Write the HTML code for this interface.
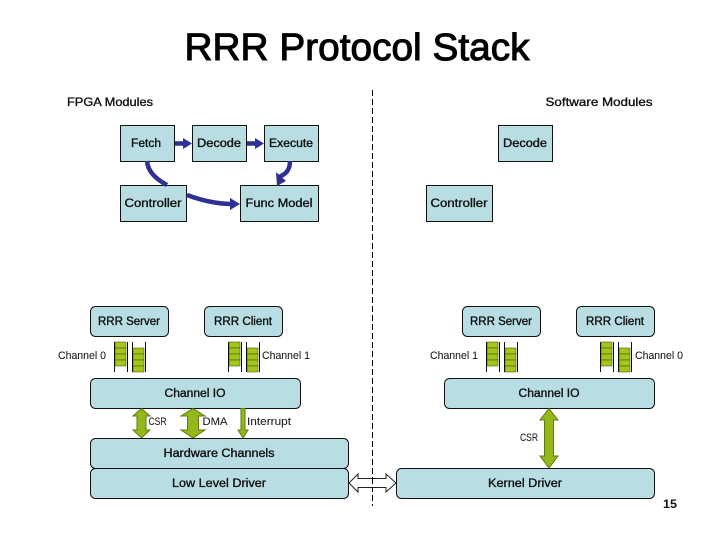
<!DOCTYPE html>
<html>
<head>
<meta charset="utf-8">
<style>
html,body{margin:0;padding:0;background:#fff}
svg{display:block}
text{font-family:"Liberation Sans",sans-serif;fill:#111}
.n{font-size:11.5px;text-anchor:middle;fill:#111;stroke:#111;stroke-width:.35}
.t{font-size:11px;text-anchor:middle;fill:#222;stroke:#222;stroke-width:.1}
.b{fill:#b8dde2;stroke:#111;stroke-width:1}
.a{fill:#94b81a;stroke:#5f7a10;stroke-width:1}
.f{fill:none;stroke:#111;stroke-width:1}
.c{fill:#a4c51a;stroke:#4a5c10;stroke-width:.6}
.p{fill:none;stroke:#2e3192;stroke-width:4.5}
.h{fill:#2e3192}
</style>
</head>
<body>
<svg width="720" height="540" viewBox="0 0 720 540" xmlns="http://www.w3.org/2000/svg">
<defs>
<g id="fifo">
<rect class="c" x="1" y="0" width="11" height="6"/><rect class="c" x="1" y="6" width="11" height="6"/><rect class="c" x="1" y="12" width="11" height="6"/><rect class="c" x="1" y="18" width="11" height="6"/>
<path class="f" d="M.5 0V30M13.500 0V30"/>
<rect class="c" x="19" y="6" width="11" height="6"/><rect class="c" x="19" y="12" width="11" height="6"/><rect class="c" x="19" y="18" width="11" height="6"/><rect class="c" x="19" y="24" width="11" height="6"/>
<path class="f" d="M18.500 0V30M31.500 0V30"/>
</g>
</defs>

<text x="357" y="60" font-size="38" text-anchor="middle" textLength="345" lengthAdjust="spacingAndGlyphs" style="fill:#000;stroke:#000;stroke-width:1">RRR Protocol Stack</text>
<text class="n" x="110" y="106" textLength="86" lengthAdjust="spacingAndGlyphs" style="font-size:12px">FPGA Modules</text>
<text class="n" x="599" y="106" textLength="107" lengthAdjust="spacingAndGlyphs" style="font-size:12px">Software Modules</text>

<line x1="372.500" y1="90" x2="372.500" y2="506" stroke="#000" stroke-width="1" stroke-dasharray="6 3"/>

<!-- FPGA upper boxes -->
<rect class="b" x="120.500" y="125.500" width="54" height="36"/>
<rect class="b" x="192.500" y="125.500" width="54" height="36"/>
<rect class="b" x="264.500" y="125.500" width="54" height="36"/>
<rect class="b" x="120.500" y="185.500" width="66" height="36"/>
<rect class="b" x="240.500" y="185.500" width="78" height="36"/>
<text class="n" x="146" y="147" textLength="30" lengthAdjust="spacingAndGlyphs">Fetch</text>
<text class="n" x="219" y="147" textLength="44" lengthAdjust="spacingAndGlyphs">Decode</text>
<text class="n" x="291" y="147" textLength="44" lengthAdjust="spacingAndGlyphs">Execute</text>
<text class="n" x="153" y="207" textLength="57" lengthAdjust="spacingAndGlyphs">Controller</text>
<text class="n" x="279" y="207" textLength="67" lengthAdjust="spacingAndGlyphs">Func Model</text>

<!-- blue arrows -->
<path class="p" d="M175 143.500H185"/><polygon class="h" points="183,138 192,143.500 183,149"/>
<path class="p" d="M247 143.500H257"/><polygon class="h" points="255,138 264,143.500 255,149"/>
<path class="p" d="M290 161C290 170 286 174 279 177"/><polygon class="h" points="276,172 286,181 277,186"/>
<path class="p" d="M147 161C148 172 156 179 167 185"/>
<path class="p" d="M187 195C203 201 218 204 233 204"/><polygon class="h" points="230,198 240,204 230,210"/>

<!-- right upper boxes -->
<rect class="b" x="498.500" y="125.500" width="54" height="36"/>
<rect class="b" x="426.500" y="185.500" width="66" height="36"/>
<text class="n" x="525" y="147" textLength="44" lengthAdjust="spacingAndGlyphs">Decode</text>
<text class="n" x="459" y="207" textLength="57" lengthAdjust="spacingAndGlyphs">Controller</text>

<!-- Left stack -->
<rect class="b" x="90.500" y="306.500" width="78" height="30" rx="5"/>
<rect class="b" x="204.500" y="306.500" width="78" height="30" rx="5"/>
<text class="n" x="129" y="325" textLength="62" lengthAdjust="spacingAndGlyphs">RRR Server</text>
<text class="n" x="243" y="325" textLength="58" lengthAdjust="spacingAndGlyphs">RRR Client</text>
<use href="#fifo" x="114" y="342"/>
<use href="#fifo" x="228" y="342"/>
<text class="t" x="82" y="359" textLength="48" lengthAdjust="spacingAndGlyphs">Channel 0</text>
<text class="t" x="286" y="359" textLength="48" lengthAdjust="spacingAndGlyphs">Channel 1</text>
<rect class="b" x="90.500" y="378.500" width="210" height="30" rx="5"/>
<text class="n" x="195" y="397" textLength="61" lengthAdjust="spacingAndGlyphs">Channel IO</text>

<polygon class="a" points="141.500,408.500 150,416 146,416 146,430 150,430 141.500,438 133,430 137,430 137,416 133,416"/>
<polygon class="a" points="193,408.500 205,416 198.500,416 198.500,430 205,430 193,438 181,430 187.500,430 187.500,416 181,416"/>
<polygon class="a" points="241,408.500 245,408.500 245,430 248,430 243,438 238,430 241,430"/>
<text class="t" x="157.500" y="425" textLength="18" lengthAdjust="spacingAndGlyphs">CSR</text>
<text class="t" x="215" y="425" textLength="25" lengthAdjust="spacingAndGlyphs">DMA</text>
<text class="t" x="269" y="425" textLength="44" lengthAdjust="spacingAndGlyphs">Interrupt</text>

<rect class="b" x="90.500" y="438.500" width="258" height="30" rx="5"/>
<rect class="b" x="90.500" y="468.500" width="258" height="30" rx="5"/>
<text class="n" x="219" y="457" textLength="111" lengthAdjust="spacingAndGlyphs">Hardware Channels</text>
<text class="n" x="219" y="487" textLength="94" lengthAdjust="spacingAndGlyphs">Low Level Driver</text>

<!-- Right stack -->
<rect class="b" x="462.500" y="306.500" width="78" height="30" rx="5"/>
<rect class="b" x="576.500" y="306.500" width="78" height="30" rx="5"/>
<text class="n" x="501" y="325" textLength="62" lengthAdjust="spacingAndGlyphs">RRR Server</text>
<text class="n" x="615" y="325" textLength="58" lengthAdjust="spacingAndGlyphs">RRR Client</text>
<use href="#fifo" x="486" y="342"/>
<use href="#fifo" x="600" y="342"/>
<text class="t" x="454" y="359" textLength="48" lengthAdjust="spacingAndGlyphs">Channel 1</text>
<text class="t" x="659" y="359" textLength="48" lengthAdjust="spacingAndGlyphs">Channel 0</text>
<rect class="b" x="444.500" y="378.500" width="210" height="30" rx="5"/>
<text class="n" x="549" y="397" textLength="61" lengthAdjust="spacingAndGlyphs">Channel IO</text>
<polygon class="a" points="549,408.500 558,420 553.500,420 553.500,456 558,456 549,468 540,456 544.500,456 544.500,420 540,420"/>
<text class="t" x="529" y="441" textLength="18" lengthAdjust="spacingAndGlyphs">CSR</text>
<rect class="b" x="396.500" y="468.500" width="258" height="30" rx="5"/>
<text class="n" x="525" y="487" textLength="74" lengthAdjust="spacingAndGlyphs">Kernel Driver</text>

<!-- white double arrow -->
<polygon points="349,483 358,474 358,478.500 386,478.500 386,474 396,483 386,492 386,487.500 358,487.500 358,492" fill="#fff" stroke="#222" stroke-width="1"/>
<line x1="372.500" y1="478" x2="372.500" y2="488" stroke="#000" stroke-width="1" stroke-dasharray="6 3"/>

<text x="670" y="508" font-size="12" font-weight="bold" text-anchor="middle" textLength="14" lengthAdjust="spacingAndGlyphs">15</text>
</svg>
</body>
</html>
